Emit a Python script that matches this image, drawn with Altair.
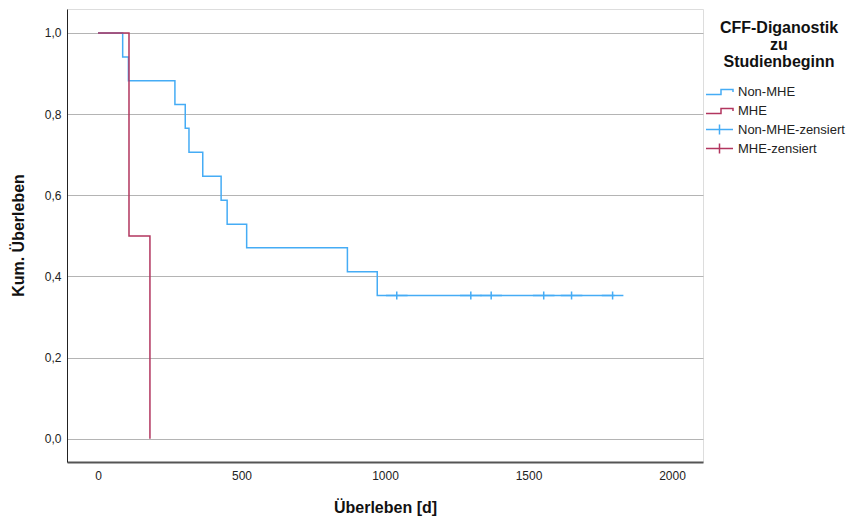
import altair as alt
import pandas as pd

# ---- data ----
groups = ["Non-MHE", "MHE", "Non-MHE-zensiert", "MHE-zensiert"]
colors = ["#45ACF5", "#B2365F", "#45ACF5", "#B2365F"]

nonmhe_days = [0, 86, 106, 268, 304, 317, 365, 429, 450, 518, 869, 973, 1800]
nonmhe_surv = [1.0, 0.941, 0.882, 0.824, 0.765, 0.706, 0.647, 0.588, 0.529, 0.471, 0.412, 0.353, 0.353]

mhe_days = [0, 108, 181]
mhe_surv = [1.0, 0.5, 0.0]

cens_days = [1041, 1299, 1370, 1553, 1650, 1793]
cens_surv = [0.353, 0.353, 0.353, 0.353, 0.353, 0.353]

y_ticks = [0.0, 0.2, 0.4, 0.6, 0.8, 1.0]
x_ticks = [0, 500, 1000, 1500, 2000]

step_path = "M0,-1.0M0,1.0M-2.7,0.6H0.3V-0.4H2.7V0.1"
cross_path = "M-2.7,0H2.7M0,-1.0V1.0"

lines = pd.DataFrame({
    "t": nonmhe_days + mhe_days,
    "s": nonmhe_surv + mhe_surv,
    "g": ["Non-MHE"] * len(nonmhe_days) + ["MHE"] * len(mhe_days),
})
cens = pd.DataFrame({"t": cens_days, "s": cens_surv, "g": ["Non-MHE-zensiert"] * len(cens_days)})

FONT = "Liberation Sans"

xscale = alt.Scale(domain=[-108, 2108], nice=False, zero=False)
yscale = alt.Scale(domain=[-0.057, 1.059], nice=False, zero=False)
cscale = alt.Scale(domain=groups, range=colors)
sscale = alt.Scale(domain=groups, range=[step_path, step_path, cross_path, cross_path])

legend = alt.Legend(
    title=["CFF-Diganostik", "zu", "Studienbeginn"],
    orient="none", legendX=646, legendY=11,
    titleFontSize=16, titleFont=FONT, titleFontWeight="bold", titleColor="#111",
    titleAnchor="middle", titleAlign="center", titleLineHeight=17, titlePadding=15,
    labelFontSize=13, labelFont=FONT, labelColor="#222", labelOffset=12,
    symbolSize=100, symbolStrokeWidth=1.5, rowPadding=2, padding=0,
)

xaxis = alt.Axis(
    title="Überleben [d]", values=x_ticks, grid=False, ticks=False, format="d",
    labelFont=FONT, labelFontSize=12, labelColor="#222", labelPadding=8,
    titleFont=FONT, titleFontSize=16, titleFontWeight="bold", titleColor="#111",
    titleX=318, titleY=45, titleBaseline="middle",
    domainColor="#555", domainWidth=2,
)
yaxis = alt.Axis(
    title="Kum. Überleben", values=y_ticks, grid=True, gridColor="#B4B4B4", gridWidth=1,
    ticks=False, labelFont=FONT, labelFontSize=12, labelColor="#222", labelPadding=6,
    labelExpr="replace(format(datum.value, '.1f'), '.', ',')",
    titleFont=FONT, titleFontSize=16, titleFontWeight="bold", titleColor="#111",
    titleX=-49, titleY=226, titleAngle=270, titleBaseline="middle",
    domainColor="#222", domainWidth=1,
)

line_layer = alt.Chart(lines).mark_line(interpolate="step-after", strokeWidth=1.5).encode(
    x=alt.X("t:Q", scale=xscale, axis=xaxis),
    y=alt.Y("s:Q", scale=yscale, axis=yaxis),
    color=alt.Color("g:N", scale=cscale, legend=legend),
    detail="g:N",
)

cens_layer = alt.Chart(cens).mark_point(filled=False, size=64, strokeWidth=1.5, opacity=1).encode(
    x=alt.X("t:Q", scale=xscale),
    y=alt.Y("s:Q", scale=yscale),
    color=alt.Color("g:N", scale=cscale, legend=legend),
    shape=alt.Shape("g:N", scale=sscale, legend=legend),
)

chart = alt.layer(line_layer, cens_layer).properties(
    width=636, height=453,
    autosize=alt.AutoSizeParams(type="none"),
    padding={"left": 59, "top": 1, "right": 148, "bottom": 60},
).configure_view(stroke=None).configure(background="white")

chart.save("out.html", embed_options={"renderer": "svg", "actions": False})
